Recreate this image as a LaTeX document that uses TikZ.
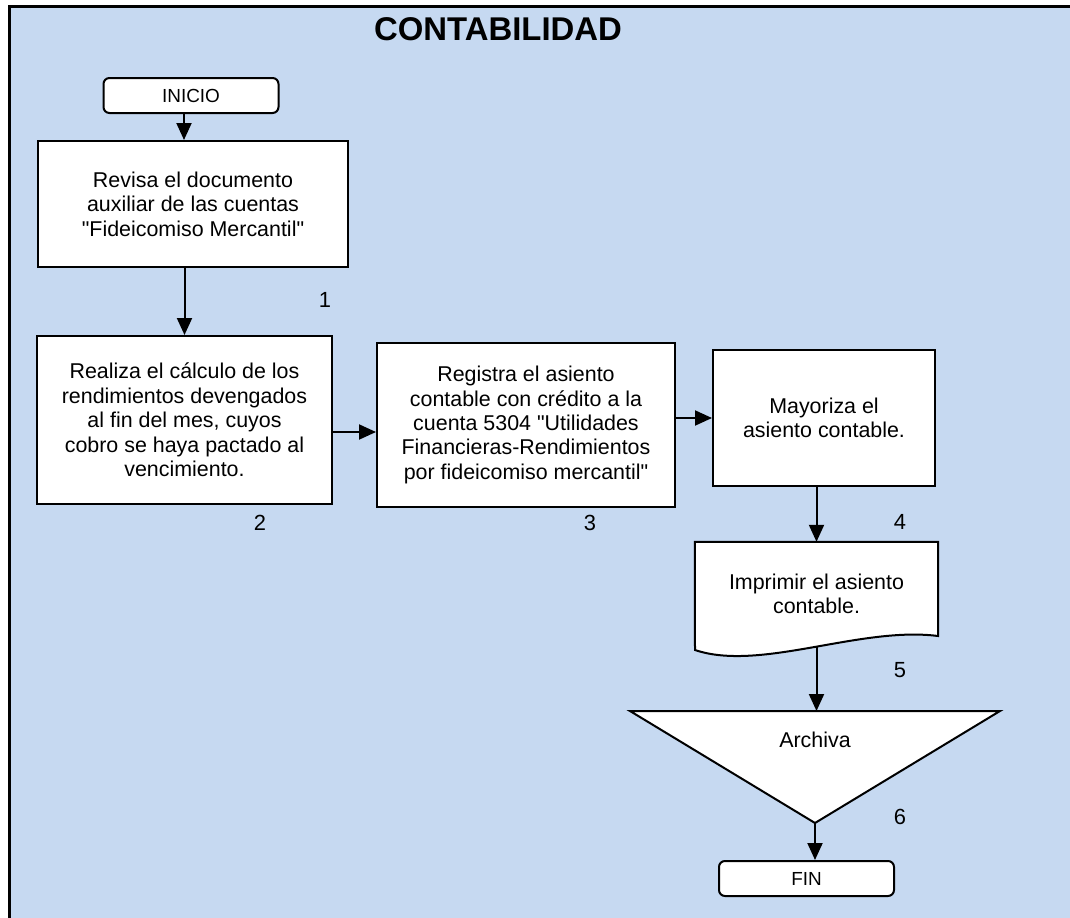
\documentclass[tikz,border=0pt]{standalone}
\usepackage{xcolor}
\usepackage{fontspec}
\setmainfont{Liberation Sans}
\usepackage{tikz}
\usetikzlibrary{shapes.geometric, arrows.meta, positioning}
\definecolor{fondo}{RGB}{198,217,241}

\begin{document}
\begin{tikzpicture}[x=1bp, y=-1bp]
    % Define styles
    \tikzstyle{terminal} = [rectangle, rounded corners=6bp, minimum width=175bp, minimum height=35bp, draw=black, line width=2bp, fill=white, font=\fontsize{19}{22}\selectfont]
    \tikzstyle{proceso} = [rectangle, draw=black, line width=2bp, fill=white, align=center, font=\fontsize{21.5}{24.5}\selectfont]
    \tikzstyle{texto} = [align=center, font=\fontsize{21.5}{24.5}\selectfont]
    \tikzstyle{paso} = [font=\fontsize{22}{24}\selectfont]
    \tikzstyle{arrow} = [line width=2bp, -{Triangle[length=17bp, width=15bp]}]

    \useasboundingbox (0,0) rectangle (1070,918);
    % Background frame
    \fill[fondo] (9,6) rectangle (1090,940);
    \draw[line width=3bp] (9.5,940) -- (9.5,6.5) -- (1090,6.5);
    \node (titulo) at (498,29) {\fontsize{33}{36}\selectfont\bfseries CONTABILIDAD};

    % Nodes
    \node (inicio) [terminal] at (191,95.5) {INICIO};
    \node (revisa) [proceso, minimum width=310bp, minimum height=126bp] at (193,204)
        {Revisa el documento\\auxiliar de las cuentas\\\textquotedbl Fideicomiso Mercantil\textquotedbl};
    \node (realiza) [proceso, minimum width=295bp, minimum height=168bp] at (184.5,420)
        {Realiza el cálculo de los\\rendimientos devengados\\al fin del mes, cuyos\\cobro se haya pactado al\\vencimiento.};
    \node (registra) [proceso, minimum width=298bp, minimum height=164bp] at (526,425)
        {Registra el asiento\\contable con crédito a la\\cuenta 5304 \textquotedbl Utilidades\\Financieras-Rendimientos\\por fideicomiso mercantil\textquotedbl};
    \node (mayoriza) [proceso, minimum width=222bp, minimum height=136bp] at (824,418)
        {Mayoriza el\\asiento contable.};

    % Document
    \node (imprimir) [texto, minimum width=243bp, minimum height=104bp] at (816.5,594) {};
    \draw[line width=2bp, fill=white] (imprimir.north west) -- (imprimir.north east) -- (938,636)
        .. controls (860,626) and (760,672) .. (695,650) -- cycle;
    \node (imprimirT) [texto] at (imprimir.center) {Imprimir el asiento\\contable.};

    % Archive
    \coordinate (archA) at (630,711);
    \coordinate (archB) at (1000,711);
    \coordinate (archC) at (815,823);
    \coordinate (archtop) at (815,711);
    \draw[line width=2bp, fill=white] (archA) -- (archB) -- (archC) -- cycle;
    \node (archiva) [texto] at (815,740) {Archiva};

    \node (fin) [terminal] at (806.5,878.5) {FIN};

    % Step numbers
    \node (n1) [paso] at (325,300) {1};
    \node (n2) [paso] at (260,523) {2};
    \node (n3) [paso] at (590,523) {3};
    \node (n4) [paso] at (900,522) {4};
    \node (n5) [paso] at (900,670) {5};
    \node (n6) [paso] at (900,817) {6};

    % Arrows
    \draw [arrow] ([xshift=-7bp]inicio.south) -- ([xshift=-7bp]inicio.south |- revisa.north);
    \draw [arrow] (revisa.south -| realiza.north) -- (realiza.north);
    \draw [arrow] ([yshift=-12bp]realiza.east) -- ([yshift=-12bp]realiza.east -| registra.west);
    \draw [arrow] (registra.east |- mayoriza.west) -- (mayoriza.west);
    \draw [arrow] (mayoriza.south -| imprimir.north) -- (imprimir.north);
    \draw [arrow] (imprimir.south) -- (imprimir.south |- archtop);
    \draw [arrow] (archC) -- (archC |- fin.north);
\end{tikzpicture}
\end{document}
